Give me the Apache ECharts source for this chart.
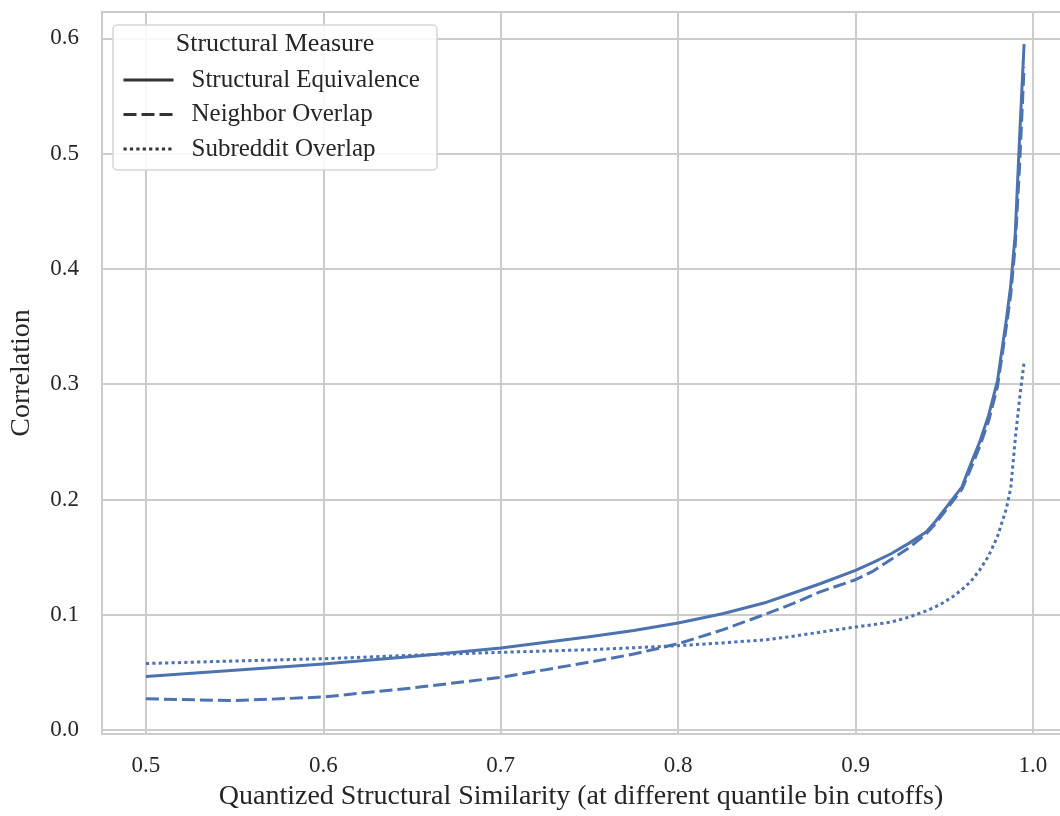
<!DOCTYPE html>
<html><head><meta charset="utf-8">
<script src="https://cdn.jsdelivr.net/npm/echarts@6/dist/echarts.min.js"></script>
<style>html,body{margin:0;padding:0;background:#fff}#c{width:1060px;height:816px}</style>
</head><body><div id="c"></div>
<script>
const xCutoffs = [0.5,0.55,0.6,0.65,0.7,0.75,0.775,0.8,0.825,0.85,0.865,0.88,0.9,0.91,0.92,0.93,0.94,0.945,0.95,0.955,0.96,0.965,0.97,0.975,0.98,0.985,0.9875,0.99,0.9925,0.995];
const structuralEquivalence = [0.0465,0.052,0.0574,0.064,0.0713,0.081,0.0865,0.093,0.101,0.111,0.119,0.127,0.1386,0.1455,0.153,0.162,0.172,0.181,0.191,0.201,0.211,0.231,0.25,0.273,0.303,0.356,0.386,0.43,0.515,0.595];
const neighborOverlap = [0.0272,0.0256,0.0288,0.0366,0.0458,0.059,0.066,0.075,0.087,0.101,0.11,0.12,0.1305,0.138,0.148,0.158,0.1705,0.179,0.189,0.199,0.209,0.227,0.246,0.268,0.298,0.35,0.378,0.42,0.49,0.575];
const subredditOverlap = [0.0578,0.06,0.062,0.065,0.0675,0.0698,0.0715,0.0733,0.0757,0.0785,0.0815,0.085,0.0895,0.0915,0.0938,0.098,0.1035,0.107,0.111,0.116,0.122,0.129,0.139,0.151,0.168,0.192,0.21,0.252,0.288,0.319];
const seriesNames = ['Structural Equivalence','Neighbor Overlap','Subreddit Overlap'];
const xTicks = [0.5,0.6,0.7,0.8,0.9,1.0];
const yTicks = [0.0,0.1,0.2,0.3,0.4,0.5,0.6];
const legendTitle = 'Structural Measure';
const xAxisTitle = 'Quantized Structural Similarity (at different quantile bin cutoffs)';
const yAxisTitle = 'Correlation';

const FONT = '"Liberation Serif", "DejaVu Serif", serif';
const TEXT = '#262626';
const GRID = '#cccccc';
const BLUE = '#4c72b0';
const pairs = ys => xCutoffs.map((x,i)=>[x, ys[i]]);
const dashes = [[], [13,5], [3.2,3.2]];
const allData = [structuralEquivalence, neighborOverlap, subredditOverlap];
const XMIN = 0.47525, XMAX = 1.01525;

const chart = echarts.init(document.getElementById('c'), null, {renderer:'canvas'});
chart.setOption({
  animation:false,
  backgroundColor:'#fff',
  grid:{left:101, top:12, right:0, bottom:82, show:false},
  xAxis:[{type:'value', min:XMIN, max:XMAX,
    name:xAxisTitle, nameLocation:'middle', nameGap:49,
    nameTextStyle:{fontFamily:FONT, fontSize:28, color:TEXT},
    axisLine:{show:true, onZero:false, lineStyle:{color:GRID, width:2}},
    axisTick:{show:false, customValues:xTicks},
    axisLabel:{customValues:xTicks, fontFamily:FONT, fontSize:23, color:TEXT, margin:20, formatter:v=>v.toFixed(1)},
    splitLine:{show:true, lineStyle:{color:GRID, width:2}}},
   {type:'value', min:XMIN, max:XMAX, position:'top',
    axisLine:{show:true, onZero:false, lineStyle:{color:GRID, width:2}},
    axisTick:{show:false}, axisLabel:{show:false}, splitLine:{show:false}}],
  yAxis:{type:'value', min:-0.0033, max:0.6228,
    name:yAxisTitle, nameLocation:'middle', nameGap:66, nameRotate:90,
    nameTextStyle:{fontFamily:FONT, fontSize:28, color:TEXT},
    axisLine:{show:true, onZero:false, lineStyle:{color:GRID, width:2}},
    axisTick:{show:false, customValues:yTicks},
    axisLabel:{customValues:yTicks, fontFamily:FONT, fontSize:23, color:TEXT, margin:23, formatter:v=>v.toFixed(1)},
    splitLine:{show:true, lineStyle:{color:GRID, width:2}}},
  graphic:[
    {type:'rect', z:3, shape:{x:113, y:25, width:324, height:145, r:4},
     style:{fill:'rgba(255,255,255,0.85)', stroke:'#d6d6d6', lineWidth:1.5}},
    {type:'text', z:5, x:275, y:44, style:{text:legendTitle, font:'26px '+FONT, fill:TEXT, textAlign:'center', textVerticalAlign:'middle'}}
  ],
  legend:{orient:'vertical', left:122, top:67.5, itemWidth:50, itemHeight:14, itemGap:9.5, padding:0, z:6,
    data:seriesNames,
    lineStyle:{color:'#333333', width:3},
    itemStyle:{color:'rgba(0,0,0,0)', borderWidth:0, opacity:0},
    textStyle:{fontFamily:FONT, fontSize:25, color:TEXT, padding:[0,0,0,13]}},
  series: seriesNames.map((n,i)=>({
    name:n, type:'line', xAxisIndex:0, data:pairs(allData[i]), showSymbol:false, symbol:'none',
    smooth:false, z:2,
    lineStyle:{color:BLUE, width:3, type: i===0?'solid':dashes[i], cap:'butt', join:'round'},
    itemStyle:{color:BLUE}
  }))
});
</script></body></html>
